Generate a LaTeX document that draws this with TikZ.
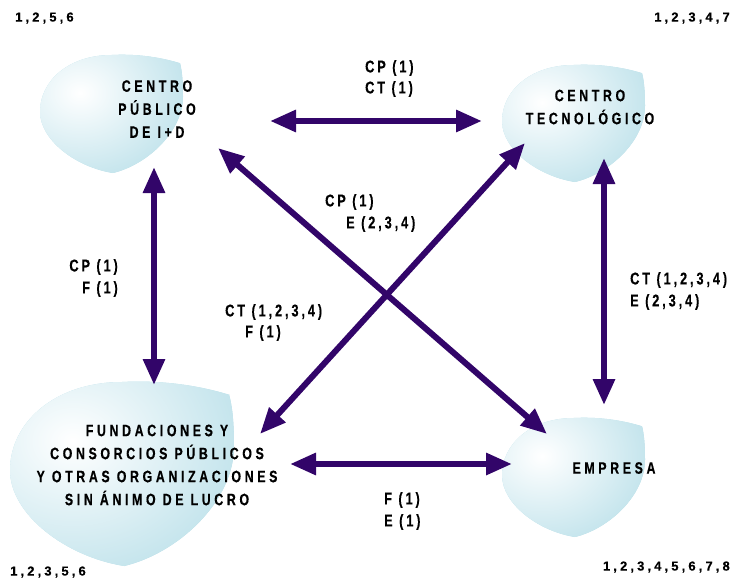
\documentclass[tikz,border=0pt]{standalone}
\usepackage{fontspec}
\usetikzlibrary{arrows.meta}
\newfontfamily\blobfont[FakeStretch=0.75,LetterSpace=22,BoldFeatures={FakeBold=0.4}]{Liberation Sans}
\newfontfamily\labfont[FakeStretch=0.75,LetterSpace=17,BoldFeatures={FakeBold=0.3}]{Liberation Sans}
\newfontfamily\numfont[LetterSpace=24,BoldFeatures={FakeBold=0.3}]{Liberation Sans}
\definecolor{arrowc}{RGB}{50,5,105}
\definecolor{blobc}{RGB}{182,222,232}

% outline of one lens-shaped blob in a unit box (y grows downwards)
\newcommand\blobpath{(0.98,0.07) .. controls (0.82,0.01) and (0.65,-0.01) .. (0.5,0)
  .. controls (0.2,0) and (0,0.22) .. (0,0.48)
  .. controls (0,0.72) and (0.25,0.95) .. (0.51,1)
  .. controls (0.75,0.93) and (1,0.65) .. (1,0.35)
  .. controls (1,0.2) and (0.99,0.12) .. cycle}
% #1,#2 top-left corner, #3 width, #4 height
\newcommand\drawblob[4]{%
  \begin{scope}[shift={(#1,#2)},xscale=#3,yscale=#4]
    \fill[blobc] \blobpath;
    \begin{scope}
      \clip \blobpath;
      \shade[inner color=white,outer color=blobc] (0.28,0.32) circle (0.92);
    \end{scope}
  \end{scope}}

\tikzset{
  link/.style={line width=6pt,draw=arrowc,
    {Triangle[length=26pt,width=21pt]}-{Triangle[length=26pt,width=21pt]}},
  blobtxt/.style={align=center,inner sep=0pt,
    font=\blobfont\bfseries\fontsize{16.5}{23}\selectfont},
  lab/.style={inner sep=0pt,font=\labfont\bfseries\fontsize{17}{21}\selectfont},
  num/.style={inner sep=0pt,font=\numfont\bfseries\fontsize{13}{15}\selectfont},
}

\begin{document}
\begin{tikzpicture}[x=1pt,y=-1pt]
\useasboundingbox (0,0) rectangle (734,581);

% blobs
\drawblob{40}{55}{143}{118}
\drawblob{502}{65}{143}{117}
\drawblob{10}{382}{224}{184}
\drawblob{502}{418}{143}{119}

\node[blobtxt] (pub) at (157,109) {CENTRO\\PÚBLICO\\DE I+D};
\node[blobtxt] (tec) at (590,107) {CENTRO\\TECNOLÓGICO};
\node[blobtxt] (fun) at (157,465) {FUNDACIONES Y\\CONSORCIOS PÚBLICOS\\Y OTRAS ORGANIZACIONES\\SIN ÁNIMO DE LUCRO};
\node[blobtxt] (emp) at (614,468) {EMPRESA};

% arrow end points
\coordinate (pubE) at (270,121);
\coordinate (tecW) at (482,121);
\coordinate (pubS) at (154,167);
\coordinate (funN) at (154,385);
\coordinate (tecS) at (604,158);
\coordinate (empN) at (604,405);
\coordinate (funE) at (290,464);
\coordinate (empW) at (512,464);
\coordinate (pubSE) at (218,148);
\coordinate (empNW) at (547,434);
\coordinate (tecSW) at (525,143);
\coordinate (funNE) at (260,434);

\draw[link] (pubE) -- (tecW);
\draw[link] (pubS) -- (funN);
\draw[link] (tecS) -- (empN);
\draw[link] (funE) -- (empW);
\draw[link] (pubSE) -- (empNW);
\draw[link] (tecSW) -- (funNE);

% link labels
\node[lab,anchor=west] (l1a) at (365,68) {CP (1)};
\node[lab,anchor=west] (l1b) at (365,89) {CT (1)};
\node[lab,anchor=east] (l2a) at (118,267) {CP (1)};
\node[lab,anchor=east] (l2b) at (118,289) {F (1)};
\node[lab,anchor=west] (l3a) at (630,280) {CT (1,2,3,4)};
\node[lab,anchor=west] (l3b) at (630,302) {E (2,3,4)};
\node[lab,anchor=west] (l4a) at (325,202) {CP (1)};
\node[lab,anchor=west] (l4b) at (346,224) {E (2,3,4)};
\node[lab,anchor=west] (l5a) at (225,312) {CT (1,2,3,4)};
\node[lab,anchor=west] (l5b) at (245,333) {F (1)};
\node[lab,anchor=west] (l6a) at (384,500) {F (1)};
\node[lab,anchor=west] (l6b) at (384,522) {E (1)};

% corner numbers
\node[num,anchor=west] (n1) at (15,18) {1,2,5,6};
\node[num,anchor=east] (n2) at (730,18) {1,2,3,4,7};
\node[num,anchor=west] (n3) at (10,572) {1,2,3,5,6};
\node[num,anchor=east] (n4) at (730,567) {1,2,3,4,5,6,7,8};
\end{tikzpicture}
\end{document}
